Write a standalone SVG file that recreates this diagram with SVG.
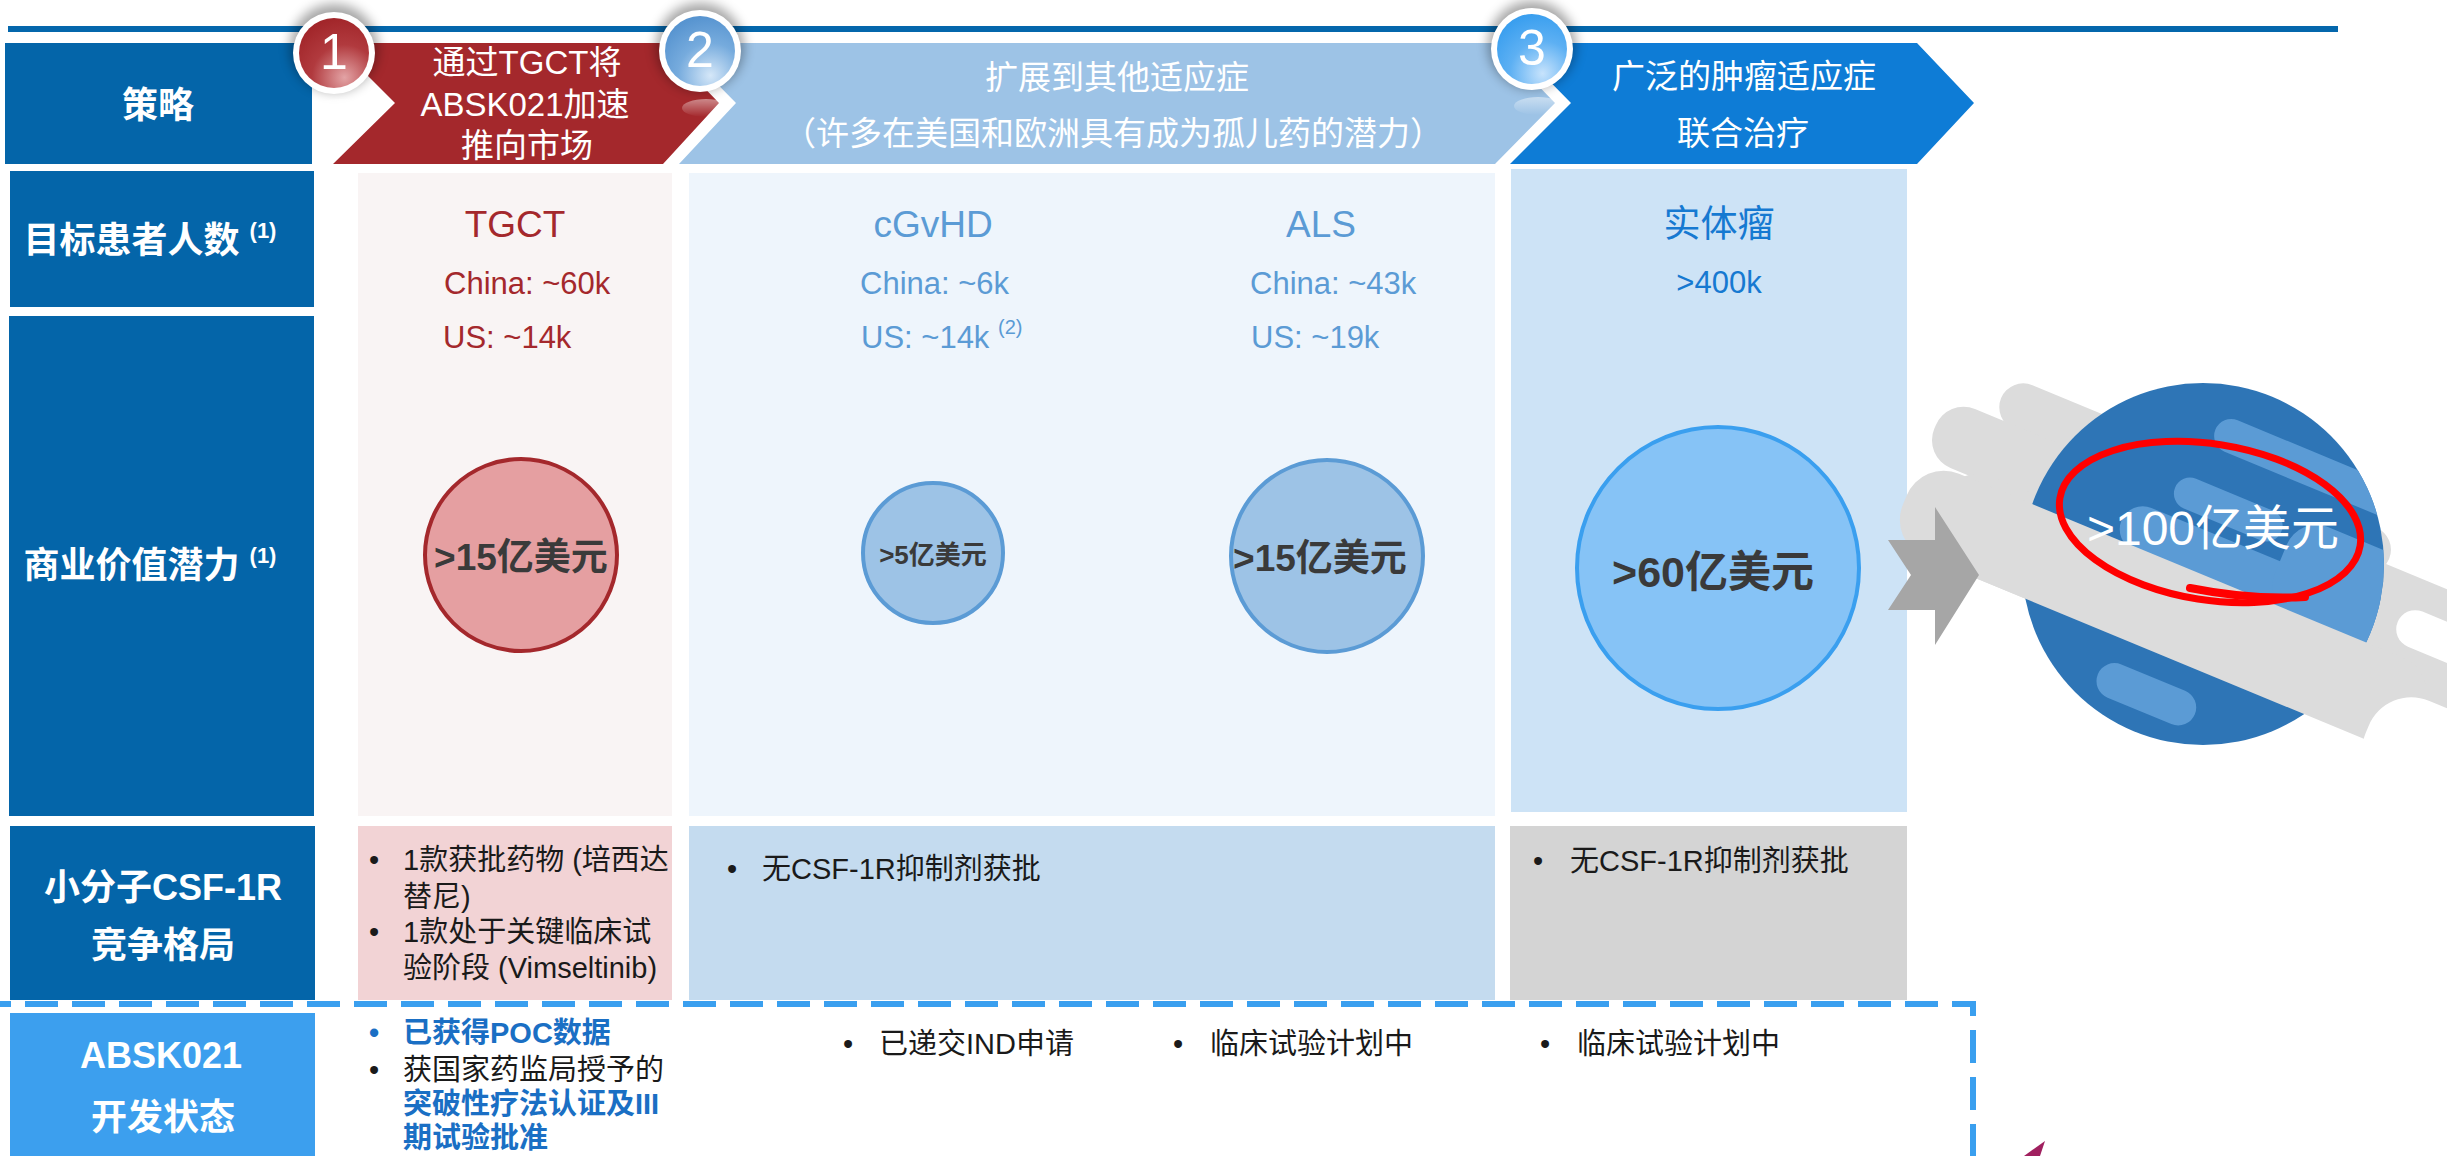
<svg xmlns="http://www.w3.org/2000/svg" width="2447" height="1156" viewBox="0 0 2447 1156">
<defs>
<style>
.t{font-family:"Liberation Sans","Noto Sans CJK SC",sans-serif}
.lbl{fill:#fff;font-weight:bold;font-size:36px;text-anchor:middle;dominant-baseline:central}
.hd{fill:#fff;font-size:33px;text-anchor:middle;dominant-baseline:central}
.sup{font-size:22px}
.num{fill:#fff;font-size:50px;text-anchor:middle;dominant-baseline:central}
.name{font-size:37px;text-anchor:middle;dominant-baseline:central}
.pop{font-size:31px;dominant-baseline:central}
.val{fill:#3a3a3a;font-weight:bold;text-anchor:middle;dominant-baseline:central}
.body{fill:#1a1a1a;font-size:29px;dominant-baseline:central}
.hl{fill:#1a6fc4;font-weight:bold}
.red{fill:#a4282c}
.lb{fill:#5b9bd5}
.db{fill:#1679d1}
.ring{fill:#dcdcdc}
.lit{fill:#5b9bd5}
</style>
<radialGradient id="gRed" cx="0.65" cy="0.85" r="0.85">
<stop offset="0" stop-color="#e3a3a5"/><stop offset="0.55" stop-color="#b13a3e"/><stop offset="1" stop-color="#a2262a"/>
</radialGradient>
<radialGradient id="gBlue" cx="0.65" cy="0.85" r="0.85">
<stop offset="0" stop-color="#d5e7f8"/><stop offset="0.55" stop-color="#76abdd"/><stop offset="1" stop-color="#5794d0"/>
</radialGradient>
<radialGradient id="gSky" cx="0.65" cy="0.85" r="0.85">
<stop offset="0" stop-color="#c7e3fc"/><stop offset="0.55" stop-color="#5db0f3"/><stop offset="1" stop-color="#3a9fef"/>
</radialGradient>
<linearGradient id="gRefl" x1="0" y1="0" x2="0" y2="1">
<stop offset="0" stop-color="#fff" stop-opacity="0.45"/><stop offset="1" stop-color="#fff" stop-opacity="0"/>
</linearGradient>
<filter id="blur" x="-50%" y="-50%" width="200%" height="200%"><feGaussianBlur stdDeviation="6"/></filter>
<clipPath id="planetClip"><circle cx="2203" cy="564" r="181"/></clipPath>
</defs>

<rect width="2447" height="1156" fill="#fff"/>

<!-- top rule -->
<rect x="8" y="26" width="2330" height="6" fill="#0467ac"/>

<!-- row labels -->
<g id="row-strategy"><rect x="5" y="43" width="307" height="121" fill="#0465a9"/><text class="t lbl" x="158" y="105">策略</text></g>
<g id="row-patients"><rect x="10" y="171" width="304" height="136" fill="#0465a9"/><text class="t lbl" x="150" y="240">目标患者人数 <tspan class="sup" dy="-10">(1)</tspan></text></g>
<g id="row-value"><rect x="9" y="316" width="305" height="500" fill="#0465a9"/><text class="t lbl" x="150" y="565">商业价值潜力 <tspan class="sup" dy="-10">(1)</tspan></text></g>
<g id="row-competition"><rect x="10" y="826" width="305" height="174" fill="#0465a9"/><text class="t lbl" x="163" y="887">小分子CSF-1R</text><text class="t lbl" x="163" y="945">竞争格局</text></g>
<g id="row-status"><rect x="10" y="1013" width="305" height="143" fill="#3c9fee"/><text class="t lbl" x="161" y="1055">ABSK021</text><text class="t lbl" x="163" y="1117">开发状态</text></g>

<!-- column backgrounds -->
<g id="col-tgct-bg"><rect x="358" y="173" width="314" height="643" fill="#f9f4f4"/><rect x="358" y="826" width="314" height="174" fill="#f2d3d5"/></g>
<g id="col-orphan-bg"><rect x="689" y="173" width="806" height="643" fill="#eef5fc"/><rect x="689" y="826" width="806" height="174" fill="#c4dbef"/></g>
<g id="col-tumor-bg"><rect x="1511" y="169" width="396" height="643" fill="#cde3f6"/><rect x="1510" y="826" width="397" height="174" fill="#d4d4d4"/></g>

<!-- phase chevrons -->
<g id="phase-1">
<polygon points="335,43 661,43 719,103 663,164 333,164 395,103" fill="#a4282c"/>
<text class="t hd" x="527" y="62">通过TGCT将</text>
<text class="t hd" x="525" y="104">ABSK021加速</text>
<text class="t hd" x="527" y="145">推向市场</text>
</g>
<g id="phase-2">
<polygon points="677,43 1497,43 1555,103 1495,164 679,164 736,103" fill="#9dc3e6"/>
<text class="t hd" x="1117" y="77">扩展到其他适应症</text>
<text class="t hd" x="1113" y="133">（许多在美国和欧洲具有成为孤儿药的潜力）</text>
</g>
<g id="phase-3">
<polygon points="1512,43 1917,43 1974,103 1917,164 1510,164 1571,103" fill="#0e7cd6"/>
<text class="t hd" x="1744" y="76">广泛的肿瘤适应症</text>
<text class="t hd" x="1743" y="133">联合治疗</text>
</g>

<!-- numbered badges -->
<g id="badge-1">
<circle cx="334" cy="48" r="44" fill="#000" opacity="0.35" filter="url(#blur)"/>
<ellipse cx="340" cy="108" rx="24" ry="9" fill="url(#gRefl)"/>
<circle cx="334" cy="53" r="41" fill="#fff"/>
<circle cx="334" cy="53" r="35" fill="url(#gRed)"/>
<text class="t num" x="334" y="52">1</text>
</g>
<g id="badge-2">
<circle cx="700" cy="47" r="44" fill="#000" opacity="0.35" filter="url(#blur)"/>
<ellipse cx="706" cy="108" rx="24" ry="9" fill="url(#gRefl)"/>
<circle cx="700" cy="51" r="41" fill="#fff"/>
<circle cx="700" cy="51" r="35" fill="url(#gBlue)"/>
<text class="t num" x="700" y="50">2</text>
</g>
<g id="badge-3">
<circle cx="1532" cy="45" r="44" fill="#000" opacity="0.35" filter="url(#blur)"/>
<ellipse cx="1538" cy="106" rx="24" ry="9" fill="url(#gRefl)"/>
<circle cx="1532" cy="49" r="41" fill="#fff"/>
<circle cx="1532" cy="49" r="35" fill="url(#gSky)"/>
<text class="t num" x="1532" y="48">3</text>
</g>

<!-- patient numbers -->
<g id="tgct-patients" class="red">
<text class="t name" x="515" y="224">TGCT</text>
<text class="t pop" x="444" y="283">China: ~60k</text>
<text class="t pop" x="443" y="337">US: ~14k</text>
</g>
<g id="cgvhd-patients" class="lb">
<text class="t name" x="933" y="224">cGvHD</text>
<text class="t pop" x="860" y="283">China: ~6k</text>
<text class="t pop" x="861" y="337">US: ~14k <tspan font-size="20" dy="-10">(2)</tspan></text>
</g>
<g id="als-patients" class="lb">
<text class="t name" x="1321" y="224">ALS</text>
<text class="t pop" x="1250" y="283">China: ~43k</text>
<text class="t pop" x="1251" y="337">US: ~19k</text>
</g>
<g id="tumor-patients" class="db">
<text class="t name" x="1719" y="224">实体瘤</text>
<text class="t pop" x="1719" y="282" text-anchor="middle">&gt;400k</text>
</g>

<!-- market size bubbles -->
<g id="tgct-value"><circle cx="521" cy="555" r="96" fill="#e59fa1" stroke="#a4282c" stroke-width="4"/><text class="t val" x="521" y="557" font-size="37">&gt;15亿美元</text></g>
<g id="cgvhd-value"><circle cx="933" cy="553" r="70" fill="#9dc3e6" stroke="#5b9bd5" stroke-width="4"/><text class="t val" x="933" y="555" font-size="26">&gt;5亿美元</text></g>
<g id="als-value"><circle cx="1327" cy="556" r="96" fill="#9dc3e6" stroke="#5b9bd5" stroke-width="4"/><text class="t val" x="1320" y="558" font-size="37">&gt;15亿美元</text></g>
<g id="tumor-value"><circle cx="1718" cy="568" r="141" fill="#86c3f6" stroke="#3a9fef" stroke-width="4"/><text class="t val" x="1713" y="572" font-size="43">&gt;60亿美元</text></g>

<!-- competition -->
<g id="tgct-competition">
<text class="t body" x="369" y="860">•</text><text class="t body" x="403" y="860">1款获批药物 (培西达</text>
<text class="t body" x="403" y="897">替尼)</text>
<text class="t body" x="369" y="932">•</text><text class="t body" x="403" y="932">1款处于关键临床试</text>
<text class="t body" x="403" y="968">验阶段 (Vimseltinib)</text>
</g>
<g id="orphan-competition"><text class="t body" x="727" y="869">•</text><text class="t body" x="762" y="869">无CSF-1R抑制剂获批</text></g>
<g id="tumor-competition"><text class="t body" x="1533" y="861">•</text><text class="t body" x="1570" y="861">无CSF-1R抑制剂获批</text></g>

<!-- development status -->
<g id="tgct-status">
<text class="t body hl" x="369" y="1033">•</text><text class="t body hl" x="403" y="1033">已获得POC数据</text>
<text class="t body" x="369" y="1070">•</text><text class="t body" x="403" y="1070">获国家药监局授予的</text>
<text class="t body hl" x="403" y="1104">突破性疗法认证及III</text>
<text class="t body hl" x="403" y="1138">期试验批准</text>
</g>
<g id="cgvhd-status"><text class="t body" x="843" y="1044">•</text><text class="t body" x="879" y="1044">已递交IND申请</text></g>
<g id="als-status"><text class="t body" x="1173" y="1044">•</text><text class="t body" x="1210" y="1044">临床试验计划中</text></g>
<g id="tumor-status"><text class="t body" x="1540" y="1044">•</text><text class="t body" x="1577" y="1044">临床试验计划中</text></g>

<!-- total market planet: ring drawn in a frame tilted along the ring axis -->
<g id="total-market">
<g transform="translate(2203 564) rotate(22.5)" class="ring">
<rect x="-250" y="-100" width="420" height="48" rx="24"/>
<rect x="-300" y="-56" width="470" height="64" rx="30"/>
<rect x="-270" y="0" width="440" height="100" rx="44"/>
<rect x="0" y="-70" width="520" height="112"/>
</g>
<circle cx="2203" cy="564" r="181" fill="#2e75b6"/>
<g clip-path="url(#planetClip)">
<g transform="translate(2203 564) rotate(22.5)" class="lit">
<rect x="-40" y="-146" width="340" height="34" rx="17"/>
<rect x="-55" y="-76" width="115" height="32" rx="16"/>
<rect x="-92" y="-32" width="400" height="46" rx="23"/>
<rect x="70" y="-82" width="260" height="96" rx="32"/>
<rect x="-55" y="124" width="105" height="36" rx="18"/>
</g>
</g>
<g transform="translate(2203 564) rotate(22.5)">
<rect class="ring" x="-300" y="10" width="560" height="90" rx="40"/>
<rect x="202" y="-40" width="320" height="38" rx="19" fill="#fff"/>
<rect x="215" y="40" width="320" height="100" rx="46" fill="#fff"/>
</g>
<ellipse cx="2210" cy="522" rx="152" ry="78" transform="rotate(9 2210 522)" fill="none" stroke="#f00" stroke-width="7"/>
<path d="M2190,588 Q2250,600 2305,597" fill="none" stroke="#f00" stroke-width="8" stroke-linecap="round"/>
<text class="t" x="2213" y="528" fill="#fff" font-size="48" text-anchor="middle" dominant-baseline="central">&gt;100亿美元</text>
</g>

<!-- connectors -->
<g id="connectors">
<path d="M0,1004 H1973 V1160" fill="none" stroke="#3a9fef" stroke-width="6" stroke-dasharray="33 14" stroke-dashoffset="22"/>
<polygon points="1888,540 1935,540 1935,507 1979,575 1935,645 1935,610 1888,610 1911,575" fill="#a6a6a6"/>
<polygon points="2024,1156 2045,1141 2040,1156" fill="#a0205f"/>
</g>
</svg>
